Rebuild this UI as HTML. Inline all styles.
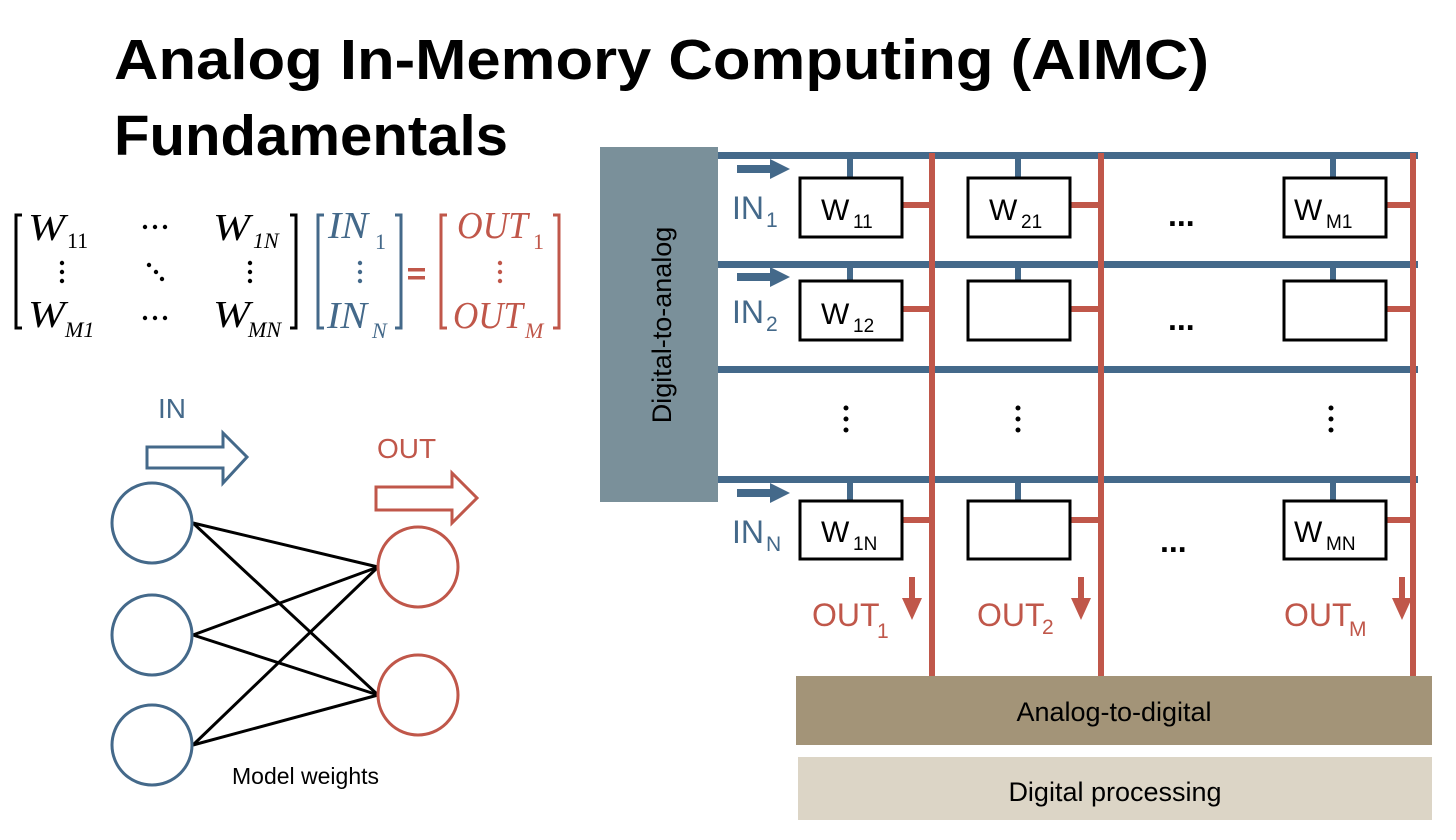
<!DOCTYPE html>
<html><head><meta charset="utf-8"><style>
html,body{margin:0;padding:0;background:#fff;}
svg{display:block;}
.s{font-family:"Liberation Sans",sans-serif;}
.m{font-family:"Liberation Serif",serif;font-style:italic;}
.r{font-family:"Liberation Serif",serif;}
</style></head><body>
<svg width="1456" height="840" viewBox="0 0 1456 840" xmlns="http://www.w3.org/2000/svg" class="s" font-family="Liberation Sans">
<text x="114" y="79" font-size="57" font-weight="bold" fill="#000" textLength="1095" lengthAdjust="spacingAndGlyphs">Analog In-Memory Computing (AIMC)</text>
<text x="114" y="155" font-size="57" font-weight="bold" fill="#000" textLength="394" lengthAdjust="spacingAndGlyphs">Fundamentals</text>

<!-- matrix -->
<g fill="none" stroke-width="3">
<path d="M22 215 H16 V328 H22" stroke="#000"/>
<path d="M290 215 H296 V328 H290" stroke="#000"/>
<path d="M324 215 H318 V328 H324" stroke="#44698a"/>
<path d="M395 215 H401 V328 H395" stroke="#44698a"/>
<path d="M447 215 H441 V328 H447" stroke="#c0574a"/>
<path d="M553 215 H559 V328 H553" stroke="#c0574a"/>
</g>
<g fill="#000">
<text x="28" y="240" class="m" font-size="38" textLength="37" lengthAdjust="spacingAndGlyphs">W</text><text x="67" y="248" font-size="22" class="r">11</text>
<text x="213" y="240" class="m" font-size="38" textLength="37" lengthAdjust="spacingAndGlyphs">W</text><text x="253" y="248" font-size="22" class="m">1N</text>
<text x="28" y="327" class="m" font-size="38" textLength="37" lengthAdjust="spacingAndGlyphs">W</text><text x="65" y="337" font-size="22" class="m">M1</text>
<text x="213" y="327" class="m" font-size="38" textLength="37" lengthAdjust="spacingAndGlyphs">W</text><text x="248" y="337" font-size="22" class="m">MN</text>
<circle cx="145" cy="227" r="2.2"/><circle cx="155" cy="227" r="2.2"/><circle cx="165" cy="227" r="2.2"/>
<circle cx="145" cy="318" r="2.2"/><circle cx="155" cy="318" r="2.2"/><circle cx="165" cy="318" r="2.2"/>
<circle cx="62" cy="263" r="2.2"/><circle cx="62" cy="272" r="2.2"/><circle cx="62" cy="281" r="2.2"/>
<circle cx="250" cy="263" r="2.2"/><circle cx="250" cy="272" r="2.2"/><circle cx="250" cy="281" r="2.2"/>
<circle cx="149" cy="265" r="2.2"/><circle cx="156" cy="272" r="2.2"/><circle cx="162" cy="279" r="2.2"/>
</g>
<g fill="#44698a">
<text x="328" y="238" class="m" font-size="38" textLength="40" lengthAdjust="spacingAndGlyphs">IN</text><text x="375" y="249" font-size="22" class="r">1</text>
<text x="327" y="328" class="m" font-size="38" textLength="40" lengthAdjust="spacingAndGlyphs">IN</text><text x="372" y="338" font-size="22" class="m">N</text>
<circle cx="360" cy="263" r="2.2"/><circle cx="360" cy="272" r="2.2"/><circle cx="360" cy="281" r="2.2"/>
</g>
<g fill="#c0574a">
<rect x="408" y="268" width="17" height="3.5"/><rect x="408" y="276" width="17" height="3.5"/>
<text x="457" y="238" class="m" font-size="38" textLength="71" lengthAdjust="spacingAndGlyphs">OUT</text><text x="533" y="249" font-size="22" class="r">1</text>
<text x="453" y="328" class="m" font-size="38" textLength="70" lengthAdjust="spacingAndGlyphs">OUT</text><text x="525" y="338" font-size="22" class="m">M</text>
<circle cx="500" cy="263" r="2.2"/><circle cx="500" cy="272" r="2.2"/><circle cx="500" cy="281" r="2.2"/>
</g>

<!-- network -->
<text x="158" y="418" font-size="28" fill="#44698a">IN</text>
<path d="M147 447 H223 V433 L247 457 L223 483 V468 H147 Z" fill="none" stroke="#44698a" stroke-width="3"/>
<text x="377" y="458" font-size="28" fill="#c0574a">OUT</text>
<path d="M376 487 H452 V473 L477 498 L452 523 V510 H376 Z" fill="none" stroke="#c0574a" stroke-width="3"/>
<g stroke="#000" stroke-width="3">
<line x1="193" y1="523" x2="378" y2="567"/><line x1="193" y1="523" x2="378" y2="695"/>
<line x1="193" y1="635" x2="378" y2="567"/><line x1="193" y1="635" x2="378" y2="695"/>
<line x1="193" y1="745" x2="378" y2="567"/><line x1="193" y1="745" x2="378" y2="695"/>
</g>
<g fill="#fff" stroke="#44698a" stroke-width="3">
<circle cx="152" cy="523" r="40"/><circle cx="152" cy="635" r="40"/><circle cx="152" cy="745" r="40"/>
</g>
<g fill="#fff" stroke="#c0574a" stroke-width="3">
<circle cx="418" cy="567" r="40"/><circle cx="418" cy="695" r="40"/>
</g>
<text x="232" y="784" font-size="23" fill="#000">Model weights</text>

<!-- crossbar -->
<rect x="600" y="147" width="118" height="355" fill="#7a909a"/>
<text transform="translate(671,325) rotate(-90)" font-size="27" fill="#000" text-anchor="middle">Digital-to-analog</text>
<g fill="#44698a">
<rect x="718" y="152" width="700" height="7"/>
<rect x="718" y="261" width="700" height="7"/>
<rect x="718" y="366" width="700" height="7"/>
<rect x="718" y="476" width="700" height="7"/>
<rect x="847" y="158" width="6" height="20"/><rect x="1015" y="158" width="6" height="20"/><rect x="1330" y="158" width="6" height="20"/>
<rect x="847" y="267" width="6" height="14"/><rect x="1015" y="267" width="6" height="14"/><rect x="1330" y="267" width="6" height="14"/>
<rect x="847" y="482" width="6" height="19"/><rect x="1015" y="482" width="6" height="19"/><rect x="1330" y="482" width="6" height="19"/>
<path d="M737 165 H770 V159 L790 169 L770 179 V173 H737 Z"/>
<path d="M737 273 H770 V267 L790 277 L770 287 V281 H737 Z"/>
<path d="M737 489 H770 V483 L790 493 L770 503 V497 H737 Z"/>
<text x="732" y="219" font-size="32">IN</text><text x="766" y="227" font-size="21">1</text>
<text x="732" y="323" font-size="32">IN</text><text x="766" y="331" font-size="21">2</text>
<text x="732" y="543" font-size="32">IN</text><text x="766" y="551" font-size="21">N</text>
</g>
<g fill="#c0574a">
<rect x="929" y="153" width="6" height="523"/>
<rect x="1098" y="153" width="6" height="523"/>
<rect x="1410" y="153" width="6" height="523"/>
<rect x="902" y="202" width="28" height="6"/><rect x="1070" y="202" width="28" height="6"/><rect x="1386" y="202" width="25" height="6"/>
<rect x="902" y="306" width="28" height="6"/><rect x="1070" y="306" width="28" height="6"/><rect x="1386" y="306" width="25" height="6"/>
<rect x="902" y="517" width="28" height="6"/><rect x="1070" y="517" width="28" height="6"/><rect x="1386" y="517" width="25" height="6"/>
<path d="M909 577 H915 V598 H922 L912 620 L902 598 H909 Z"/>
<path d="M1078 577 H1084 V598 H1091 L1081 620 L1071 598 H1078 Z"/>
<path d="M1399 577 H1405 V598 H1412 L1402 620 L1392 598 H1399 Z"/>
<text x="812" y="626" font-size="32">OUT</text><text x="877" y="638" font-size="21">1</text>
<text x="977" y="626" font-size="32">OUT</text><text x="1042" y="634" font-size="21">2</text>
<text x="1284" y="626" font-size="32">OUT</text><text x="1349" y="636" font-size="21">M</text>
</g>
<g fill="#fff" stroke="#000" stroke-width="3">
<rect x="800" y="178" width="102" height="59"/><rect x="968" y="178" width="102" height="59"/><rect x="1284" y="178" width="102" height="59"/>
<rect x="800" y="281" width="102" height="59"/><rect x="968" y="281" width="102" height="59"/><rect x="1284" y="281" width="102" height="59"/>
<rect x="800" y="501" width="102" height="58"/><rect x="968" y="501" width="102" height="58"/><rect x="1284" y="501" width="102" height="58"/>
</g>
<g fill="#000">
<text x="821" y="220" font-size="30">W</text><text x="853" y="228" font-size="19">11</text>
<text x="989" y="220" font-size="30">W</text><text x="1021" y="228" font-size="19">21</text>
<text x="1294" y="220" font-size="30">W</text><text x="1326" y="228" font-size="19">M1</text>
<text x="821" y="324" font-size="30">W</text><text x="853" y="332" font-size="19">12</text>
<text x="821" y="542" font-size="30">W</text><text x="853" y="550" font-size="19">1N</text>
<text x="1294" y="542" font-size="30">W</text><text x="1326" y="550" font-size="19">MN</text>
<text x="1168" y="226" font-size="32" font-weight="bold">...</text>
<text x="1168" y="330" font-size="32" font-weight="bold">...</text>
<text x="1160" y="552" font-size="32" font-weight="bold">...</text>
<circle cx="846" cy="408" r="2.5"/><circle cx="846" cy="419" r="2.5"/><circle cx="846" cy="430" r="2.5"/>
<circle cx="1018" cy="408" r="2.5"/><circle cx="1018" cy="419" r="2.5"/><circle cx="1018" cy="430" r="2.5"/>
<circle cx="1331" cy="408" r="2.5"/><circle cx="1331" cy="419" r="2.5"/><circle cx="1331" cy="430" r="2.5"/>
</g>
<rect x="796" y="676" width="636" height="69" fill="#a39478"/>
<text x="1114" y="721" font-size="27" text-anchor="middle" fill="#000">Analog-to-digital</text>
<rect x="798" y="757" width="634" height="63" fill="#dcd5c6"/>
<text x="1115" y="801" font-size="27" text-anchor="middle" fill="#000">Digital processing</text>
</svg>
</body></html>
